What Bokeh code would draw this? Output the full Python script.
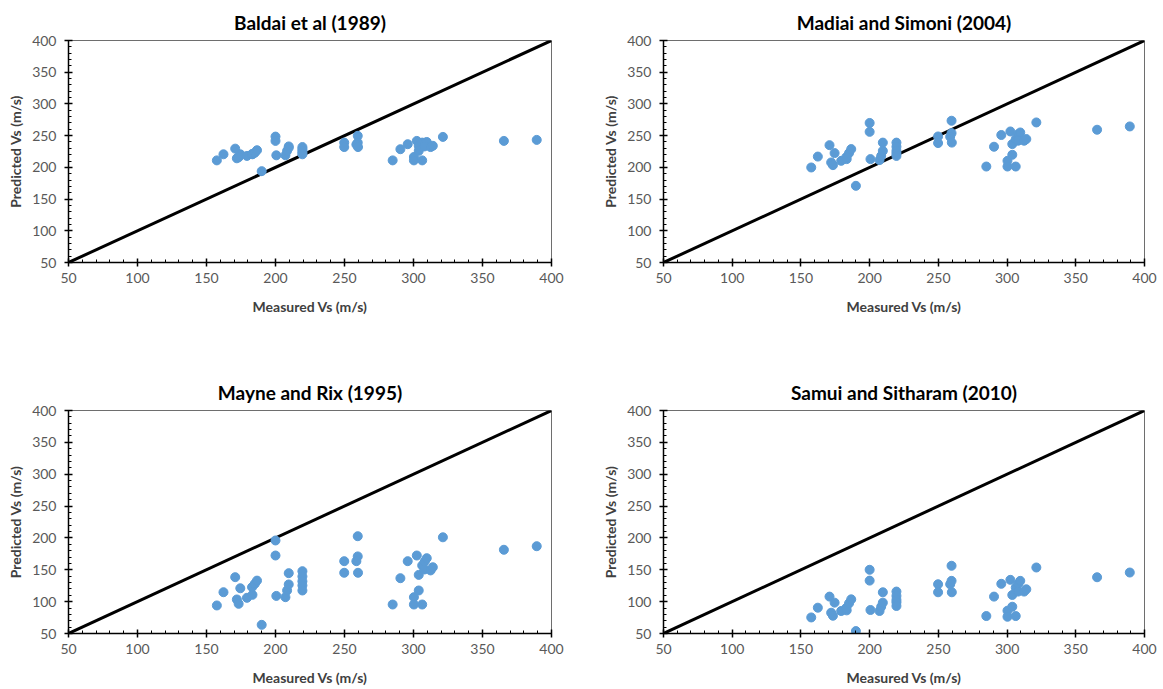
from bokeh.plotting import figure
from bokeh.layouts import column, row
from bokeh.models import Range1d, SingleIntervalTicker
from bokeh.embed import file_html
from bokeh.resources import INLINE

# Measured shear-wave velocity (m/s), shared by every correlation
measured = [157.5, 162.3, 170.8, 174.5, 172.0, 173.3, 179.3, 183.3, 183.0, 185.0,
            186.6, 190.0, 200.0, 200.0, 200.6, 207.2, 208.4, 209.6, 209.6, 219.5,
            219.5, 219.5, 219.5, 219.5, 249.8, 249.8, 259.6, 259.6, 258.6, 259.8,
            284.9, 290.5, 295.8, 300.3, 300.3, 302.4, 303.8, 303.8, 306.3, 306.3,
            308.2, 309.6, 308.0, 312.4, 314.0, 321.3, 365.5, 389.3]

# Predicted shear-wave velocity (m/s) for each correlation
baldai = [211, 220.6, 229.5, 220.6, 214.3, 216, 218, 220.6, 221, 223,
          227, 194, 248.5, 241.7, 219, 219, 226, 231, 233, 232,
          229, 226, 223, 220.6, 239, 232, 249.7, 239, 236, 232,
          211, 228.6, 236.5, 216.4, 211, 241.7, 233.8, 226, 211, 239,
          236.5, 240, 233, 232, 234, 248, 241.7, 243.3]

madiai = [199.8, 217, 235, 222.5, 207.7, 203.5, 210.3, 213, 216, 222.5,
          228.8, 170.9, 270, 256, 213, 211.5, 218, 226, 239, 239,
          232.5, 226, 222, 218, 248.7, 238.3, 273.5, 254, 248.3, 239,
          201.3, 232.5, 251, 210.3, 201.3, 256.6, 236.7, 219.8, 201.3, 244.6,
          252.5, 255, 242, 242, 244.6, 270.8, 259.3, 264.5]

mayne = [94, 114.8, 138.4, 121, 103.4, 96.6, 106, 110.7, 122.7, 128,
         133, 63.6, 196, 172.4, 109, 107, 117.5, 127, 144.7, 147.8,
         139.5, 132, 125.4, 117.5, 163.5, 145.3, 202.7, 171, 163.5, 145.3,
         95.5, 136.8, 163.5, 107, 95.5, 172.4, 142, 117.5, 95.5, 156.8,
         163, 168.2, 150.5, 149, 154, 201, 181.4, 187]

samui = [75.2, 90.5, 107.9, 98.4, 82.6, 77.9, 85.3, 86.3, 90, 97.3,
         103.6, 53.8, 150, 133, 86.9, 85.3, 92, 98.4, 114.7, 115.8,
         109, 102.7, 98.9, 93.2, 127.3, 114.7, 156.3, 132.6, 127.3, 114.7,
         77.4, 107.9, 128, 85.8, 76.3, 134.2, 110.5, 92, 77.4, 122,
         128, 132.6, 115.8, 115.8, 119.4, 153.6, 138.3, 145.7]

titles = ["Baldai et al (1989)", "Madiai and Simoni (2004)",
          "Mayne and Rix (1995)", "Samui and Sitharam (2010)"]

# 1:1 reference line
line_xy = [50, 400]

FONT = "Lato"
BLUE = "#5B9BD5"


def panel(title, predicted, width, height, left, right, top, bottom):
    p = figure(width=width, height=height, output_backend="svg",
               toolbar_location=None, tools="",
               x_range=Range1d(50, 400), y_range=Range1d(50, 400),
               min_border_left=left, min_border_right=right,
               min_border_top=top, min_border_bottom=bottom,
               title=title)
    p.title.text_font = FONT
    p.title.text_font_size = "19px"
    p.title.text_font_style = "bold"
    p.title.text_color = "#000000"
    p.title.align = "center"
    p.title.standoff = 14

    p.grid.visible = False
    p.outline_line_color = "#6e6e6e"
    p.outline_line_width = 1
    p.background_fill_color = "white"
    p.border_fill_color = "white"

    for ax in (p.xaxis[0], p.yaxis[0]):
        ax.ticker = SingleIntervalTicker(interval=50, num_minor_ticks=5)
        ax.axis_line_color = "#000000"
        ax.axis_line_width = 1.5
        ax.major_tick_line_color = "#000000"
        ax.major_tick_line_width = 1.5
        ax.major_tick_in = 4
        ax.major_tick_out = 4
        ax.minor_tick_line_color = "#000000"
        ax.minor_tick_line_width = 1
        ax.minor_tick_in = 3
        ax.minor_tick_out = 0
        ax.major_label_text_font = FONT
        ax.major_label_text_font_size = "14px"
        ax.major_label_text_color = "#595959"
        ax.axis_label_text_font = FONT
        ax.axis_label_text_font_size = "14px"
        ax.axis_label_text_font_style = "bold"
        ax.axis_label_text_color = "#404040"

    p.xaxis.axis_label = "Measured Vs (m/s)"
    p.yaxis.axis_label = "Predicted Vs (m/s)"
    p.xaxis.major_label_standoff = 6
    p.xaxis.axis_label_standoff = 12
    p.yaxis.major_label_standoff = 8
    p.yaxis.axis_label_standoff = 5

    p.line(line_xy, line_xy, line_color="#000000", line_width=3)
    p.scatter(measured, predicted, size=9, fill_color=BLUE, line_color=BLUE)
    return p


p1 = panel(titles[0], baldai, 590, 370, 68, 39, 40, 108)
p2 = panel(titles[1], madiai, 573, 370, 73, 19, 40, 108)
p3 = panel(titles[2], mayne, 590, 319, 68, 39, 40, 56)
p4 = panel(titles[3], samui, 573, 319, 73, 19, 40, 56)

layout = column(row(p1, p2), row(p3, p4))

open("out.html", "w").write(file_html(layout, INLINE))
